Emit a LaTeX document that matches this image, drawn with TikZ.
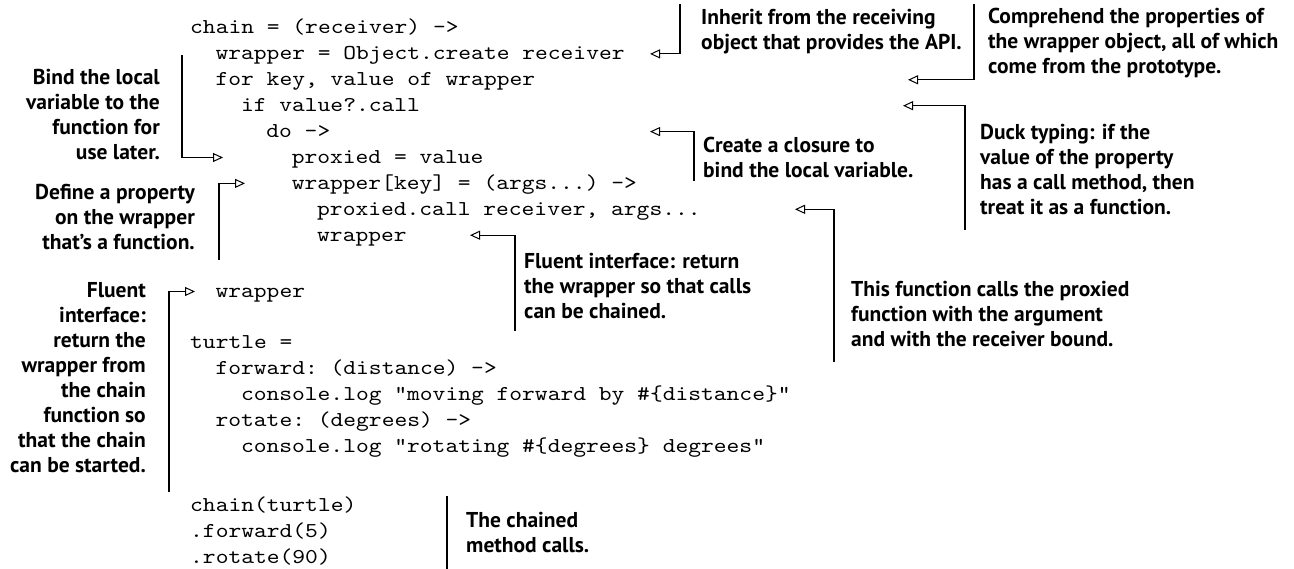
\documentclass[tikz,border=0pt]{standalone}
\usepackage{fontspec}
\setmonofont{lmmono10-regular.otf}[FakeStretch=1.15]
\newfontfamily\notefamily{PT Sans}
\usetikzlibrary{arrows.meta}
\newcommand\codefont{\ttfamily\fontsize{21.17}{25.9}\selectfont}
\newcommand\notefont{\notefamily\bfseries\fontsize{21.5}{25}\selectfont}
\tikzset{
  code/.style={font=\codefont, anchor=base west, inner sep=0pt},
  note/.style={font=\notefont, inner sep=0pt, anchor=north west, align=left},
  noteright/.style={note, anchor=north east, align=right},
  callout/.style={line width=1.1pt,
    -{Triangle[open, length=10pt, width=9pt, line width=1pt]}},
  plainline/.style={line width=1.1pt},
}
\begin{document}
\begin{tikzpicture}[x=1pt, y=-1pt]
  \fill[white] (0,0) rectangle (1294,569);
  \useasboundingbox (0,0) rectangle (1294,569);

  % ---- code listing ----
  \node[code] (l1)  at (190,34)      {chain = (receiver) ->};
  \node[code] (l2)  at (215.4,59.9)  {wrapper = Object.create receiver};
  \node[code] (l3)  at (215.4,85.8)  {for key, value of wrapper};
  \node[code] (l4)  at (240.8,111.7) {if value?.call};
  \node[code] (l5)  at (266.2,137.6) {do ->};
  \node[code] (l6)  at (291.6,163.5) {proxied = value};
  \node[code] (l7)  at (291.6,189.4) {wrapper[key] = (args...) ->};
  \node[code] (l8)  at (317,215.3)   {proxied.call receiver, args...};
  \node[code] (l9)  at (317,241.2)   {wrapper};
  \node[code] (l11) at (215.4,297.5) {wrapper};
  \node[code] (l13) at (190,349)     {turtle =};
  \node[code] (l14) at (215.4,375)   {forward: (distance) ->};
  \node[code] (l15) at (240.8,401)   {console.log "moving forward by \#\{distance\}"};
  \node[code] (l16) at (215.4,427)   {rotate: (degrees) ->};
  \node[code] (l17) at (240.8,453)   {console.log "rotating \#\{degrees\} degrees"};
  \node[code] (l19) at (190,511)     {chain(turtle)};
  \node[code] (l20) at (190,537)     {.forward(5)};
  \node[code] (l21) at (190,563)     {.rotate(90)};

  % ---- annotations ----
  \node[note] (inherit) at (701,6.5)
    {\strut Inherit from the receiving\\object that provides the API.};
  \node[note] (comprehend) at (988,5.5)
    {\strut Comprehend the properties of\\the wrapper object, all of which\\come from the prototype.};
  \node[noteright] (bind) at (160,66.5)
    {\strut Bind the local\\variable to the\\function for\\use later.};
  \node[note] (closure) at (703,134.5)
    {\strut Create a closure to\\bind the local variable.};
  \node[note] (duck) at (980,121.5)
    {\strut Duck typing: if the\\value of the property\\has a call method, then\\treat it as a function.};
  \node[noteright] (define) at (195,181.5)
    {\strut Define a property\\on the wrapper\\that’s a function.};
  \node[note] (fluentinner) at (524,250.5)
    {\strut Fluent interface: return\\the wrapper so that calls\\can be chained.};
  \node[note] (proxycall) at (851,278.5)
    {\strut This function calls the proxied\\function with the argument\\and with the receiver bound.};
  \node[noteright] (fluentouter) at (146,280)
    {\strut Fluent\\interface:\\return the\\wrapper from\\the chain\\function so\\that the chain\\can be started.};
  \node[note] (chained) at (466,509.5)
    {\strut The chained\\method calls.};

  % ---- connector ends ----
  \coordinate (inheritS)  at (680,4);      \coordinate (inheritT)  at (650,53.9);
  \coordinate (compS)     at (974,4);      \coordinate (compT)     at (908,79.8);
  \coordinate (duckS)     at (965,230);    \coordinate (duckT)     at (903,105.7);
  \coordinate (closureS)  at (694,181);    \coordinate (closureT)  at (650,131.6);
  \coordinate (bindS)     at (182,55);     \coordinate (bindT)     at (223,157.5);
  \coordinate (defineS)   at (219,260);    \coordinate (defineT)   at (245,183.4);
  \coordinate (fluentinS) at (515,331);    \coordinate (fluentinT) at (470,235.2);
  \coordinate (proxyS)    at (834,362);    \coordinate (proxyT)    at (795,209.3);
  \coordinate (fluentS)   at (169,492);    \coordinate (fluentT)   at (195,291.5);
  \coordinate (chainedA)  at (447,496);    \coordinate (chainedB)  at (447,569);

  % ---- connectors ----
  \draw[callout] (inheritS)  |- (inheritT);
  \draw[callout] (compS)     |- (compT);
  \draw[callout] (duckS)     |- (duckT);
  \draw[callout] (closureS)  |- (closureT);
  \draw[callout] (bindS)     |- (bindT);
  \draw[callout] (defineS)   |- (defineT);
  \draw[callout] (fluentinS) |- (fluentinT);
  \draw[callout] (proxyS)    |- (proxyT);
  \draw[callout] (fluentS)   |- (fluentT);
  \draw[plainline] (chainedA) -- (chainedB);
\end{tikzpicture}
\end{document}
